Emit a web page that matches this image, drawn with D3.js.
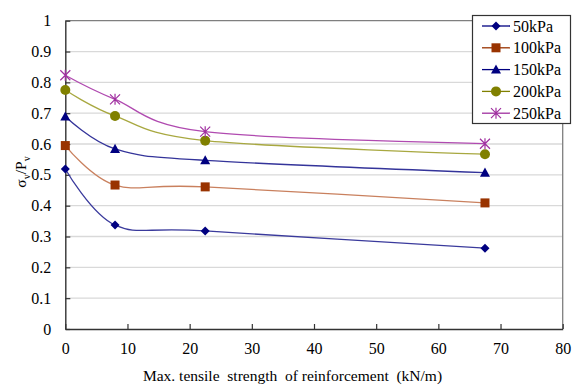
<!DOCTYPE html>
<html>
<head>
<meta charset="utf-8">
<script src="https://cdn.jsdelivr.net/npm/d3@7"></script>
<style>
  html, body { margin: 0; padding: 0; background: #fff; }
  svg { display: block; }
</style>
</head>
<body>
<svg id="chart" width="573" height="387" font-family="Liberation Serif"></svg>
<script>
// Maximum tensile strength of reinforcement (kN/m)
const strengths = [0, 8, 22.5, 67.5];

// sigma_v / P_v for each applied pressure
const series50  = [0.519, 0.337, 0.318, 0.262];
const series100 = [0.595, 0.467, 0.461, 0.409];
const series150 = [0.689, 0.584, 0.547, 0.507];
const series200 = [0.775, 0.691, 0.611, 0.567];
const series250 = [0.823, 0.745, 0.640, 0.601];

const seriesNames = ["50kPa", "100kPa", "150kPa", "200kPa", "250kPa"];
const xTicks = [0, 10, 20, 30, 40, 50, 60, 70, 80];
const yTicks = [0, 0.1, 0.2, 0.3, 0.4, 0.5, 0.6, 0.7, 0.8, 0.9, 1];

const FONT = "Liberation Serif";

const styles = [
  { line: "#3a3a9c", fill: "#000080", marker: "diamond" },
  { line: "#c9805e", fill: "#993300", marker: "square" },
  { line: "#34349a", fill: "#000080", marker: "triangle" },
  { line: "#a8a840", fill: "#808000", marker: "circle" },
  { line: "#b04ab0", fill: "#a030a0", marker: "star" }
];

const allSeries = [series50, series100, series150, series200, series250];

const svg = d3.select("#chart");
const x = d3.scaleLinear().domain([0, 80]).range([65.3, 562.7]);
const y = d3.scaleLinear().domain([0, 1]).range([329, 20.7]);

// horizontal gridlines
svg.append("g").selectAll("line")
  .data(yTicks.filter(t => t > 0 && t < 1))
  .join("line")
  .attr("x1", x(0)).attr("x2", x(80))
  .attr("y1", d => y(d)).attr("y2", d => y(d))
  .attr("stroke", "#d9d9d9").attr("stroke-width", 1.3);

// plot frame (top and right)
svg.append("path")
  .attr("d", `M${x(0)},${y(1)}H${x(80)}V${y(0)}`)
  .attr("fill", "none").attr("stroke", "#7f7f7f").attr("stroke-width", 1.3);

// axes with inward ticks
const xAxis = d3.axisBottom(x).tickValues(xTicks).tickSizeInner(-5).tickSizeOuter(0).tickPadding(14);
const yAxis = d3.axisLeft(y).tickValues(yTicks).tickSizeInner(-5).tickSizeOuter(0).tickPadding(14)
  .tickFormat(d => d === 0 ? "0" : d === 1 ? "1" : d3.format(".1f")(d));

const gx = svg.append("g").attr("transform", `translate(0,${y(0)})`).call(xAxis);
const gy = svg.append("g").attr("transform", `translate(${x(0)},0)`).call(yAxis);
[gx, gy].forEach(g => {
  g.attr("font-family", FONT).attr("font-size", 16);
  g.select(".domain").attr("stroke", "#333").attr("stroke-width", 1.4);
  g.selectAll(".tick line").attr("stroke", "#333").attr("stroke-width", 1.2);
  g.selectAll(".tick text").attr("fill", "#000");
});
gx.selectAll(".tick text").attr("dy", "0.71em");

// series lines
const line = d3.line()
  .x((d, i) => x(strengths[i]))
  .y(d => y(d))
  .curve(d3.curveCatmullRom.alpha(0));

function drawMarker(g, type, fill) {
  if (type === "diamond") {
    g.append("path").attr("d", "M0,-4.5L4.5,0L0,4.5L-4.5,0Z").attr("fill", fill);
  } else if (type === "square") {
    g.append("rect").attr("x", -4.5).attr("y", -4.5).attr("width", 9).attr("height", 9).attr("fill", fill);
  } else if (type === "triangle") {
    g.append("path").attr("d", "M0,-5.2L5,4L-5,4Z").attr("fill", fill);
  } else if (type === "circle") {
    g.append("circle").attr("r", 5).attr("fill", fill);
  } else if (type === "star") {
    g.append("path")
      .attr("d", "M-5,-5L5,5M5,-5L-5,5M0,-5.5V5.5")
      .attr("stroke", fill).attr("stroke-width", 1.2).attr("fill", "none");
  }
}

allSeries.forEach((vals, k) => {
  const st = styles[k];
  svg.append("path")
    .datum(vals)
    .attr("d", line)
    .attr("fill", "none")
    .attr("stroke", st.line)
    .attr("stroke-width", 1.3);
  vals.forEach((v, i) => {
    const g = svg.append("g").attr("transform", `translate(${x(strengths[i])},${y(v)})`);
    drawMarker(g, st.marker, st.fill);
  });
});

// legend
const lg = svg.append("g");
lg.append("rect").attr("x", 472.5).attr("y", 15.5).attr("width", 98).attr("height", 108)
  .attr("fill", "#fff").attr("stroke", "#333").attr("stroke-width", 1.2);
seriesNames.forEach((name, k) => {
  const st = styles[k];
  const cy = 26 + k * 21.8;
  lg.append("line").attr("x1", 482).attr("x2", 510).attr("y1", cy).attr("y2", cy)
    .attr("stroke", st.fill).attr("stroke-width", 1.3);
  const g = lg.append("g").attr("transform", `translate(496,${cy})`);
  drawMarker(g, st.marker, st.fill);
  lg.append("text").attr("x", 513).attr("y", cy).attr("dy", "0.35em")
    .attr("font-family", FONT).attr("font-size", 16).text(name);
});

// axis titles
svg.append("text")
  .attr("x", 292.5).attr("y", 381)
  .attr("text-anchor", "middle")
  .attr("font-family", FONT).attr("font-size", 15.5)
  .attr("xml:space", "preserve")
  .style("white-space", "pre")
  .text("Max. tensile  strength  of reinforcement  (kN/m)");

const yl = svg.append("text")
  .attr("transform", "translate(26,172) rotate(-90)")
  .attr("text-anchor", "middle")
  .attr("font-family", FONT).attr("font-size", 15.5);
yl.append("tspan").text("σ");
yl.append("tspan").attr("dy", 4).attr("font-size", 10).text("v");
yl.append("tspan").attr("dy", -4).text("/P");
yl.append("tspan").attr("dy", 4).attr("font-size", 10).text("v");
</script>
</body>
</html>
